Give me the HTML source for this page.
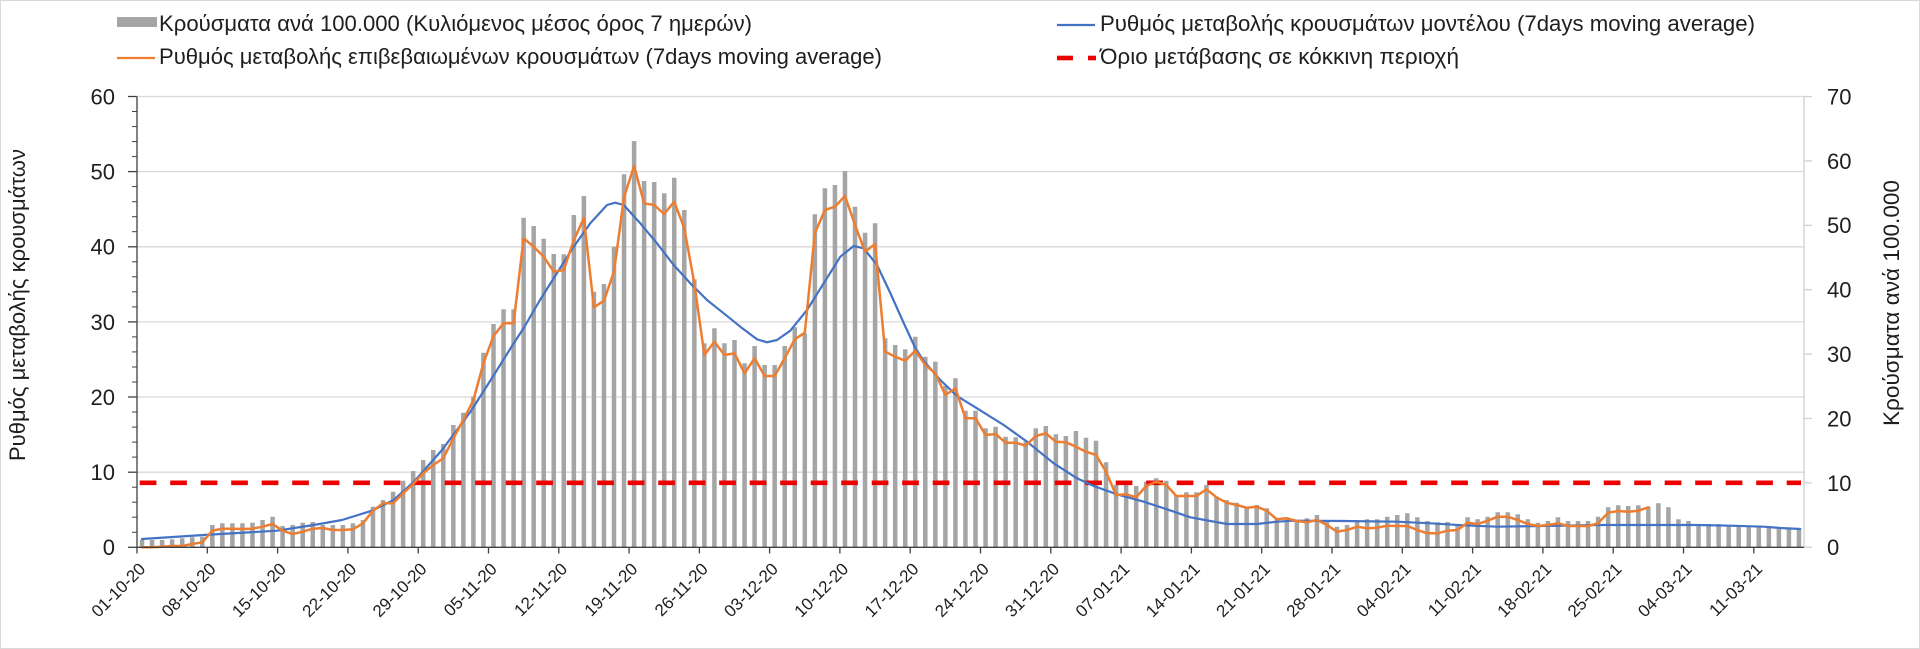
<!DOCTYPE html>
<html><head><meta charset="utf-8"><style>
html,body{margin:0;padding:0;background:#fff;}
svg{display:block;}
text{font-family:"Liberation Sans","DejaVu Sans",sans-serif;fill:#1e1e1e;}
</style></head><body>
<svg width="1920" height="649" viewBox="0 0 1920 649" xmlns="http://www.w3.org/2000/svg">
<rect x="0.5" y="0.5" width="1919" height="648" fill="#fff" stroke="#d9d9d9" stroke-width="1"/>

<!-- gridlines -->
<g stroke="#d9d9d9" stroke-width="1.3">
<line x1="137" y1="96.5" x2="1804" y2="96.5"/>
<line x1="137" y1="171.6" x2="1804" y2="171.6"/>
<line x1="137" y1="246.8" x2="1804" y2="246.8"/>
<line x1="137" y1="321.9" x2="1804" y2="321.9"/>
<line x1="137" y1="397" x2="1804" y2="397"/>
<line x1="137" y1="472.2" x2="1804" y2="472.2"/>
</g>
<!-- right axis -->
<g stroke="#d0d0d0" stroke-width="1.3">
<line x1="1804" y1="96.5" x2="1804" y2="547.3"/>
<line x1="1804" y1="96.5" x2="1812" y2="96.5"/>
<line x1="1804" y1="160.9" x2="1812" y2="160.9"/>
<line x1="1804" y1="225.3" x2="1812" y2="225.3"/>
<line x1="1804" y1="289.7" x2="1812" y2="289.7"/>
<line x1="1804" y1="354.1" x2="1812" y2="354.1"/>
<line x1="1804" y1="418.5" x2="1812" y2="418.5"/>
<line x1="1804" y1="482.9" x2="1812" y2="482.9"/>
<line x1="1804" y1="547.3" x2="1812" y2="547.3"/>
</g>

<!-- bars -->
<g transform="translate(139.77,0) scale(10.042,1)" fill="#a5a5a5">
<path d="M0 547.3V540h.45V547.3zM1 547.3V540h.45V547.3zM2 547.3V540h.45V547.3zM3 547.3V539.3h.45V547.3zM4 547.3V538.3h.45V547.3zM5 547.3V537.3h.45V547.3zM6 547.3V536.7h.45V547.3zM7 547.3V525h.45V547.3zM8 547.3V523.3h.45V547.3zM9 547.3V523.3h.45V547.3zM10 547.3V523.3h.45V547.3zM11 547.3V522.7h.45V547.3zM12 547.3V520h.45V547.3zM13 547.3V516.7h.45V547.3zM14 547.3V526h.45V547.3zM15 547.3V525h.45V547.3zM16 547.3V522.7h.45V547.3zM17 547.3V522h.45V547.3zM18 547.3V525h.45V547.3zM19 547.3V525h.45V547.3zM20 547.3V525h.45V547.3zM21 547.3V523.3h.45V547.3zM22 547.3V520h.45V547.3zM23 547.3V506.7h.45V547.3zM24 547.3V500h.45V547.3zM25 547.3V491.7h.45V547.3zM26 547.3V480.7h.45V547.3zM27 547.3V471h.45V547.3zM28 547.3V460h.45V547.3zM29 547.3V450h.45V547.3zM30 547.3V444h.45V547.3zM31 547.3V425h.45V547.3zM32 547.3V412.7h.45V547.3zM33 547.3V396.7h.45V547.3zM34 547.3V352.7h.45V547.3zM35 547.3V324h.45V547.3zM36 547.3V309.3h.45V547.3zM37 547.3V309.3h.45V547.3zM38 547.3V217.7h.45V547.3zM39 547.3V226h.45V547.3zM40 547.3V238.7h.45V547.3zM41 547.3V254h.45V547.3zM42 547.3V254.3h.45V547.3zM43 547.3V215h.45V547.3zM44 547.3V196h.45V547.3zM45 547.3V291.7h.45V547.3zM46 547.3V284h.45V547.3zM47 547.3V246.7h.45V547.3zM48 547.3V174.3h.45V547.3zM49 547.3V141h.45V547.3zM50 547.3V181h.45V547.3zM51 547.3V182h.45V547.3zM52 547.3V193.3h.45V547.3zM53 547.3V177.7h.45V547.3zM54 547.3V210h.45V547.3zM55 547.3V279.3h.45V547.3zM56 547.3V343.3h.45V547.3zM57 547.3V328.3h.45V547.3zM58 547.3V343.3h.45V547.3zM59 547.3V340h.45V547.3zM60 547.3V363.3h.45V547.3zM61 547.3V346h.45V547.3zM62 547.3V365h.45V547.3zM63 547.3V365h.45V547.3zM64 547.3V346h.45V547.3zM65 547.3V327.3h.45V547.3zM66 547.3V333.3h.45V547.3zM67 547.3V214.3h.45V547.3zM68 547.3V188.3h.45V547.3zM69 547.3V185h.45V547.3zM70 547.3V171h.45V547.3zM71 547.3V206.7h.45V547.3zM72 547.3V232.7h.45V547.3zM73 547.3V223.3h.45V547.3zM74 547.3V338.3h.45V547.3zM75 547.3V345h.45V547.3zM76 547.3V349.3h.45V547.3zM77 547.3V336.7h.45V547.3zM78 547.3V356.7h.45V547.3zM79 547.3V361.7h.45V547.3zM80 547.3V386h.45V547.3zM81 547.3V378.3h.45V547.3zM82 547.3V410.7h.45V547.3zM83 547.3V410.7h.45V547.3zM84 547.3V428.3h.45V547.3zM85 547.3V426.7h.45V547.3zM86 547.3V436.7h.45V547.3zM87 547.3V437.3h.45V547.3zM88 547.3V441.7h.45V547.3zM89 547.3V428.3h.45V547.3zM90 547.3V426h.45V547.3zM91 547.3V434.3h.45V547.3zM92 547.3V436h.45V547.3zM93 547.3V431h.45V547.3zM94 547.3V437.7h.45V547.3zM95 547.3V440.7h.45V547.3zM96 547.3V462.3h.45V547.3zM97 547.3V485h.45V547.3zM98 547.3V485h.45V547.3zM99 547.3V486h.45V547.3zM100 547.3V481.7h.45V547.3zM101 547.3V478.3h.45V547.3zM102 547.3V480.7h.45V547.3zM103 547.3V495h.45V547.3zM104 547.3V492.3h.45V547.3zM105 547.3V492.3h.45V547.3zM106 547.3V485h.45V547.3zM107 547.3V496.7h.45V547.3zM108 547.3V500h.45V547.3zM109 547.3V502.7h.45V547.3zM110 547.3V506.7h.45V547.3zM111 547.3V505h.45V547.3zM112 547.3V508.3h.45V547.3zM113 547.3V519.3h.45V547.3zM114 547.3V517.3h.45V547.3zM115 547.3V520h.45V547.3zM116 547.3V518.3h.45V547.3zM117 547.3V515h.45V547.3zM118 547.3V521.7h.45V547.3zM119 547.3V526.7h.45V547.3zM120 547.3V525h.45V547.3zM121 547.3V521.7h.45V547.3zM122 547.3V519.3h.45V547.3zM123 547.3V519.3h.45V547.3zM124 547.3V516.7h.45V547.3zM125 547.3V515h.45V547.3zM126 547.3V513.3h.45V547.3zM127 547.3V517.3h.45V547.3zM128 547.3V521h.45V547.3zM129 547.3V522.3h.45V547.3zM130 547.3V522h.45V547.3zM131 547.3V524h.45V547.3zM132 547.3V517.3h.45V547.3zM133 547.3V519.3h.45V547.3zM134 547.3V516.7h.45V547.3zM135 547.3V512.3h.45V547.3zM136 547.3V512.3h.45V547.3zM137 547.3V514.3h.45V547.3zM138 547.3V519.3h.45V547.3zM139 547.3V522.7h.45V547.3zM140 547.3V521h.45V547.3zM141 547.3V517.3h.45V547.3zM142 547.3V521h.45V547.3zM143 547.3V521h.45V547.3zM144 547.3V521h.45V547.3zM145 547.3V516.7h.45V547.3zM146 547.3V507.3h.45V547.3zM147 547.3V505.3h.45V547.3zM148 547.3V506h.45V547.3zM149 547.3V505.3h.45V547.3zM150 547.3V506.7h.45V547.3zM151 547.3V503.3h.45V547.3zM152 547.3V507.3h.45V547.3zM153 547.3V519.3h.45V547.3zM154 547.3V521h.45V547.3zM155 547.3V524h.45V547.3zM156 547.3V524h.45V547.3zM157 547.3V524h.45V547.3zM158 547.3V525h.45V547.3zM159 547.3V525h.45V547.3zM160 547.3V526h.45V547.3zM161 547.3V526h.45V547.3zM162 547.3V527.3h.45V547.3zM163 547.3V527.7h.45V547.3zM164 547.3V528.3h.45V547.3zM165 547.3V529h.45V547.3z"/>
</g>

<!-- red threshold -->
<line x1="139.7" y1="482.8" x2="1801" y2="482.8" stroke="#ee0000" stroke-width="4.6" stroke-dasharray="16.7 13.8"/>

<!-- blue model line -->
<polyline fill="none" stroke="#4472c4" stroke-width="2.2" stroke-linejoin="round" stroke-linecap="round" points="142,539 203.7,535 277,530.7 313.7,525 342,520 372,510.7 393.7,500 413.7,482 442,450 470.3,412 492,378 512,346 523.7,328 540,300 557,273 573.7,246.7 590.3,223.3 607,205 615.3,202.7 623.7,205 640.3,223.3 657,243.3 673.7,265 690.3,283.3 707,300 723.7,313.3 740.3,326.7 757,339.3 767,342.3 777,340 790.3,330.7 807,310 823.7,283.3 840.3,256.7 853.7,246 863.7,248.3 877,265 890.3,293 903.7,323 915.3,348 923.7,361 940.3,380 957,396 977,408.3 1003.7,425 1027,441.7 1053.7,463.3 1077,478.3 1093.7,486 1117,494.3 1143.7,501.7 1167,509.3 1190.3,517.3 1210.3,521 1227,524 1257,524 1277,521.7 1293.7,520.7 1343.7,521 1397,521.7 1430.3,523.3 1463.7,525.3 1497,526.7 1563.7,525.7 1597,525 1697,525 1730.3,525.7 1763.7,526.7 1780.3,528 1800.3,529"/>

<!-- orange confirmed line -->
<g transform="translate(142.021,0) scale(10.042,1)">
<polyline fill="none" stroke="#ed7d31" stroke-width="2.5" vector-effect="non-scaling-stroke" stroke-linejoin="round" stroke-linecap="round" points="0,547.3 1,547.3 2,546.7 3,546 4,546 5,544 6,542.3 7,530.7 8,528.7 9,528.7 10,529 11,528.7 12,526.7 13,524 14,530.7 15,534 16,531.7 17,528.7 18,528 19,530 20,530 21,529.3 22,523.3 23,510.7 24,503.3 25,503.3 26,493.3 27,484 28,473.3 29,465 30,458.3 31,438.3 32,420 33,400 34,363.3 35,336 36,323.3 37,323.3 38,238.3 39,246.7 40,256.7 41,271.7 42,270 43,240 44,218.3 45,307.3 46,300.7 47,271.7 48,197.3 49,166 50,203.3 51,205 52,214 53,201.7 54,228.3 55,283.3 56,355 57,341.7 58,355 59,353.3 60,373.3 61,358.3 62,376 63,376 64,358.3 65,339.3 66,332.7 67,233.3 68,210 69,206.7 70,196 71,225 72,251.7 73,244 74,351.7 75,356.7 76,360.7 77,350.7 78,365 79,373.3 80,395 81,388.3 82,418.3 83,418.3 84,435 85,434 86,442.7 87,442.7 88,445.7 89,436 90,433.3 91,441.7 92,442.3 93,446.7 94,451.7 95,455 96,471.7 97,495 98,494.3 99,497.3 100,486 101,481.7 102,485 103,496 104,496 105,496 106,489.3 107,497.3 108,502.7 109,505 110,507.7 111,506.7 112,510.7 113,519.3 114,518.3 115,521 116,522.3 117,520 118,525 119,531.7 120,530 121,526.7 122,528.3 123,527.7 124,525.7 125,526 126,526 127,530 128,533.3 129,533.3 130,530.7 131,530 132,522.7 133,524 134,520.7 135,516.7 136,516.7 137,520 138,524 139,526 140,525 141,523.3 142,526 143,526 144,526 145,523.3 146,512.7 147,511 148,511.7 149,510.7 150,507.3"/>
</g>

<!-- left axis + x axis -->
<g stroke="#404040" stroke-width="1.3">
<line x1="137" y1="96.5" x2="137" y2="547.3"/>
<line x1="137" y1="547.3" x2="1804" y2="547.3"/>
<line x1="128" y1="96.5" x2="137" y2="96.5"/><line x1="128" y1="171.6" x2="137" y2="171.6"/><line x1="128" y1="246.8" x2="137" y2="246.8"/><line x1="128" y1="321.9" x2="137" y2="321.9"/><line x1="128" y1="397" x2="137" y2="397"/><line x1="128" y1="472.2" x2="137" y2="472.2"/><line x1="128" y1="547.3" x2="137" y2="547.3"/>
</g>
<g stroke="#404040" stroke-width="1">
<line x1="132" y1="111.5" x2="137" y2="111.5"/><line x1="132" y1="126.6" x2="137" y2="126.6"/><line x1="132" y1="141.6" x2="137" y2="141.6"/><line x1="132" y1="156.6" x2="137" y2="156.6"/>
<line x1="132" y1="186.6" x2="137" y2="186.6"/><line x1="132" y1="201.7" x2="137" y2="201.7"/><line x1="132" y1="216.7" x2="137" y2="216.7"/><line x1="132" y1="231.7" x2="137" y2="231.7"/>
<line x1="132" y1="261.8" x2="137" y2="261.8"/><line x1="132" y1="276.8" x2="137" y2="276.8"/><line x1="132" y1="291.8" x2="137" y2="291.8"/><line x1="132" y1="306.9" x2="137" y2="306.9"/>
<line x1="132" y1="336.9" x2="137" y2="336.9"/><line x1="132" y1="351.9" x2="137" y2="351.9"/><line x1="132" y1="367" x2="137" y2="367"/><line x1="132" y1="382" x2="137" y2="382"/>
<line x1="132" y1="412" x2="137" y2="412"/><line x1="132" y1="427.1" x2="137" y2="427.1"/><line x1="132" y1="442.1" x2="137" y2="442.1"/><line x1="132" y1="457.1" x2="137" y2="457.1"/>
<line x1="132" y1="487.2" x2="137" y2="487.2"/><line x1="132" y1="502.2" x2="137" y2="502.2"/><line x1="132" y1="517.2" x2="137" y2="517.2"/><line x1="132" y1="532.3" x2="137" y2="532.3"/>
</g>
<!-- x ticks -->
<g stroke="#404040" stroke-width="1.3">
<line x1="137" y1="547.3" x2="137" y2="553.5"/><line x1="207.3" y1="547.3" x2="207.3" y2="553.5"/><line x1="277.6" y1="547.3" x2="277.6" y2="553.5"/><line x1="347.9" y1="547.3" x2="347.9" y2="553.5"/><line x1="418.2" y1="547.3" x2="418.2" y2="553.5"/><line x1="488.5" y1="547.3" x2="488.5" y2="553.5"/><line x1="558.8" y1="547.3" x2="558.8" y2="553.5"/><line x1="629.1" y1="547.3" x2="629.1" y2="553.5"/><line x1="699.4" y1="547.3" x2="699.4" y2="553.5"/><line x1="769.6" y1="547.3" x2="769.6" y2="553.5"/><line x1="839.9" y1="547.3" x2="839.9" y2="553.5"/><line x1="910.2" y1="547.3" x2="910.2" y2="553.5"/><line x1="980.5" y1="547.3" x2="980.5" y2="553.5"/><line x1="1050.8" y1="547.3" x2="1050.8" y2="553.5"/><line x1="1121.1" y1="547.3" x2="1121.1" y2="553.5"/><line x1="1191.4" y1="547.3" x2="1191.4" y2="553.5"/><line x1="1261.7" y1="547.3" x2="1261.7" y2="553.5"/><line x1="1332" y1="547.3" x2="1332" y2="553.5"/><line x1="1402.3" y1="547.3" x2="1402.3" y2="553.5"/><line x1="1472.6" y1="547.3" x2="1472.6" y2="553.5"/><line x1="1542.9" y1="547.3" x2="1542.9" y2="553.5"/><line x1="1613.2" y1="547.3" x2="1613.2" y2="553.5"/><line x1="1683.5" y1="547.3" x2="1683.5" y2="553.5"/><line x1="1753.8" y1="547.3" x2="1753.8" y2="553.5"/>
</g>

<!-- left axis labels -->
<g font-size="22" text-anchor="end">
<text x="115" y="104.4">60</text>
<text x="115" y="179.5">50</text>
<text x="115" y="254.7">40</text>
<text x="115" y="329.8">30</text>
<text x="115" y="404.9">20</text>
<text x="115" y="480.1">10</text>
<text x="115" y="555.2">0</text>
</g>
<!-- right axis labels -->
<g font-size="22">
<text x="1827" y="104.4">70</text>
<text x="1827" y="168.8">60</text>
<text x="1827" y="233.2">50</text>
<text x="1827" y="297.6">40</text>
<text x="1827" y="362">30</text>
<text x="1827" y="426.4">20</text>
<text x="1827" y="490.8">10</text>
<text x="1827" y="555.2">0</text>
</g>

<!-- axis titles -->
<text font-size="22" text-anchor="middle" transform="translate(25,305) rotate(-90)" textLength="312" lengthAdjust="spacingAndGlyphs">Ρυθμός μεταβολής κρουσμάτων</text>
<text font-size="22" text-anchor="middle" transform="translate(1899,303) rotate(-90)" textLength="246" lengthAdjust="spacingAndGlyphs">Κρούσματα ανά 100.000</text>

<!-- x labels -->
<g font-size="17" text-anchor="end">
<text transform="translate(146.5,570) rotate(-45)">01-10-20</text>
<text transform="translate(216.8,570) rotate(-45)">08-10-20</text>
<text transform="translate(287.1,570) rotate(-45)">15-10-20</text>
<text transform="translate(357.4,570) rotate(-45)">22-10-20</text>
<text transform="translate(427.7,570) rotate(-45)">29-10-20</text>
<text transform="translate(498,570) rotate(-45)">05-11-20</text>
<text transform="translate(568.3,570) rotate(-45)">12-11-20</text>
<text transform="translate(638.6,570) rotate(-45)">19-11-20</text>
<text transform="translate(708.9,570) rotate(-45)">26-11-20</text>
<text transform="translate(779.1,570) rotate(-45)">03-12-20</text>
<text transform="translate(849.4,570) rotate(-45)">10-12-20</text>
<text transform="translate(919.7,570) rotate(-45)">17-12-20</text>
<text transform="translate(990,570) rotate(-45)">24-12-20</text>
<text transform="translate(1060.3,570) rotate(-45)">31-12-20</text>
<text transform="translate(1130.6,570) rotate(-45)">07-01-21</text>
<text transform="translate(1200.9,570) rotate(-45)">14-01-21</text>
<text transform="translate(1271.2,570) rotate(-45)">21-01-21</text>
<text transform="translate(1341.5,570) rotate(-45)">28-01-21</text>
<text transform="translate(1411.8,570) rotate(-45)">04-02-21</text>
<text transform="translate(1482.1,570) rotate(-45)">11-02-21</text>
<text transform="translate(1552.4,570) rotate(-45)">18-02-21</text>
<text transform="translate(1622.7,570) rotate(-45)">25-02-21</text>
<text transform="translate(1693,570) rotate(-45)">04-03-21</text>
<text transform="translate(1763.3,570) rotate(-45)">11-03-21</text>
</g>

<!-- legend -->
<rect x="117" y="17" width="40" height="10" fill="#a5a5a5"/>
<text x="159" y="31" font-size="22" textLength="593" lengthAdjust="spacingAndGlyphs">Κρούσματα ανά 100.000 (Κυλιόμενος μέσος όρος 7 ημερών)</text>
<line x1="117" y1="58" x2="155" y2="58" stroke="#ed7d31" stroke-width="2.2"/>
<text x="159" y="64" font-size="22" textLength="723" lengthAdjust="spacingAndGlyphs">Ρυθμός μεταβολής επιβεβαιωμένων κρουσμάτων (7days moving average)</text>
<line x1="1057" y1="25" x2="1095" y2="25" stroke="#4472c4" stroke-width="2.2"/>
<text x="1100" y="31" font-size="22" textLength="655" lengthAdjust="spacingAndGlyphs">Ρυθμός μεταβολής κρουσμάτων μοντέλου (7days moving average)</text>
<line x1="1057" y1="58" x2="1073" y2="58" stroke="#ee0000" stroke-width="4.6"/>
<line x1="1088" y1="58" x2="1096" y2="58" stroke="#ee0000" stroke-width="4.6"/>
<text x="1100" y="64" font-size="22" textLength="359" lengthAdjust="spacingAndGlyphs">Όριο μετάβασης σε κόκκινη περιοχή</text>
</svg>
</body></html>
